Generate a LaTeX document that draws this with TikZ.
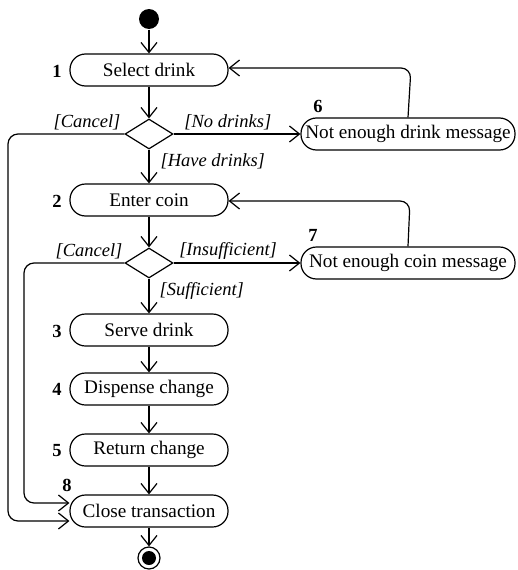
\documentclass[tikz,border=0pt]{standalone}
\usepackage{fontspec}
\setmainfont{Liberation Serif}
\usetikzlibrary{arrows.meta,shapes.geometric}
\begin{document}
\begin{tikzpicture}[x=1pt,y=-1pt,
  line width=1.2pt,
  every node/.style={font=\fontsize{19.2}{21}\selectfont},
  act/.style={draw, rounded corners=15.5pt, minimum height=32pt, inner sep=0pt},
  narrow/.style={act, minimum width=158pt},
  wide/.style={act, minimum width=214pt},
  choice/.style={draw, diamond, minimum width=48pt, minimum height=30pt, inner sep=0pt},
  flow/.style={-{Straight Barb[length=10pt,width=16pt,line width=1.2pt]}},
  guard/.style={font=\fontsize{18.5}{20}\selectfont\itshape, inner sep=0pt},
  num/.style={font=\fontsize{18.5}{20}\selectfont\bfseries, inner sep=0pt}]
\useasboundingbox (0,0) rectangle (518,570);

% initial and final states
\node[circle, fill, minimum size=20pt, inner sep=0pt] (start) at (149,19) {};
\node[circle, draw, minimum size=22pt, inner sep=0pt] (finish) at (149,558) {};
\fill (finish.center) circle (7pt);

% actions
\node[narrow] (n1) at (149,70)  {Select drink};
\node[choice] (d1) at (149,134) {};
\node[wide]   (n6) at (408,134) {Not enough drink message};
\node[narrow] (n2) at (149,200) {Enter coin};
\node[choice] (d2) at (149,263) {};
\node[wide]   (n7) at (408,263) {Not enough coin message};
\node[narrow] (n3) at (149,330) {Serve drink};
\node[narrow] (n4) at (149,389) {Dispense change};
\node[narrow] (n5) at (149,450) {Return change};
\node[narrow] (n8) at (149,511) {Close transaction};

% step numbers
\node[num] (l1) at (57,71)  {1};
\node[num] (l2) at (57,201) {2};
\node[num] (l3) at (57,331) {3};
\node[num] (l4) at (57,389) {4};
\node[num] (l5) at (57,451) {5};
\node[num] (l6) at (318,106) {6};
\node[num] (l7) at (313,235) {7};
\node[num] (l8) at (67,485) {8};

% return points of the loops and cancel paths
\coordinate (r1) at (411,68);
\coordinate (r2) at (410,201);
\coordinate (c1) at (8,134);
\coordinate (c1b) at (8,521);
\coordinate (c2) at (24,263);
\coordinate (c2b) at (24,503);

% main flow
\draw[flow] (start) -- (n1);
\draw[flow] (n1) -- (d1);
\draw[flow] (d1) -- (n2) node[guard, pos=0.35, anchor=west, xshift=11pt] (g1) {[Have drinks]};
\draw[flow] (d1.east) -- (n6.west) node[guard, pos=0.08, anchor=south west, yshift=3pt] (g2) {[No drinks]};
\draw[flow, rounded corners=10pt] (n6.north) -- (r1) -- (r1 -| n1.east);
\draw[flow] (n2) -- (d2);
\draw[flow] (d2) -- (n3) node[guard, pos=0.35, anchor=west, xshift=10pt] (g3) {[Sufficient]};
\draw[flow] (d2.east) -- (n7.west) node[guard, pos=0.04, anchor=south west, yshift=3pt] (g4) {[Insufficient]};
\draw[flow, rounded corners=10pt] (n7.north) -- (r2) -- (r2 -| n2.east);
\draw[flow] (n3) -- (n4);
\draw[flow] (n4) -- (n5);
\draw[flow] (n5) -- (n8);
\draw[flow] (n8) -- (finish);

% cancel paths to the closing action
\draw[flow, rounded corners=10pt] (d1.west) -- (c1) -- (c1b) -- (c1b -| n8.west);
\draw[flow, rounded corners=10pt] (d2.west) -- (c2) -- (c2b) -- (c2b -| n8.west);
\node[guard, anchor=south east] (g5) at (121,131) {[Cancel]};
\node[guard, anchor=south east] (g6) at (123,260) {[Cancel]};
\end{tikzpicture}
\end{document}
